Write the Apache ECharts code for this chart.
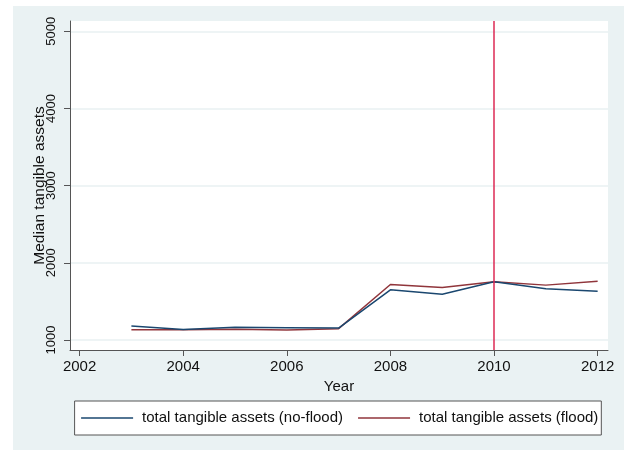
<!DOCTYPE html>
<html>
<head>
<meta charset="utf-8">
<script src="https://cdn.jsdelivr.net/npm/echarts@6/dist/echarts.min.js"></script>
<style>
html,body{margin:0;padding:0;background:#fff;}
#chart{width:624px;height:450px;}
</style>
</head>
<body>
<div id="chart"></div>
<script>
const years = [2003, 2004, 2005, 2006, 2007, 2008, 2009, 2010, 2011, 2012];
const noFlood = [1181, 1136, 1164, 1160, 1155, 1650, 1594, 1754, 1663, 1633];
const flood = [1134, 1132, 1138, 1130, 1147, 1719, 1680, 1754, 1711, 1762];
const xTicks = [2002, 2004, 2006, 2008, 2010, 2012];
const yTicks = [1000, 2000, 3000, 4000, 5000];
const floodYear = [2010];
const seriesNames = ['total tangible assets (no-flood)', 'total tangible assets (flood)'];

const font = '"Liberation Sans", Arial, Helvetica, sans-serif';
const chart = echarts.init(document.getElementById('chart'), null, {renderer: 'canvas'});
chart.setOption({
  animation: false,
  backgroundColor: 'transparent',
  graphic: [{
    type: 'rect', z: -10, silent: true,
    shape: {x: 13, y: 6, width: 611, height: 444},
    style: {fill: '#eaf2f3'}
  }],
  grid: {
    left: 70, right: 16, top: 21, bottom: 100,
    show: true, backgroundColor: '#ffffff', borderWidth: 0
  },
  xAxis: {
    type: 'value', min: 2001.815, max: 2012.2,
    name: 'Year', nameLocation: 'middle', nameGap: 28,
    nameTextStyle: {fontFamily: font, fontSize: 15, color: '#111'},
    axisLine: {show: true, onZero: false, lineStyle: {color: '#555', width: 1}},
    axisTick: {show: true, length: 6, customValues: xTicks, lineStyle: {color: '#555'}},
    axisLabel: {customValues: xTicks, margin: 9, fontFamily: font, fontSize: 15, color: '#111',
      formatter: v => String(v)},
    splitLine: {show: false}
  },
  yAxis: {
    type: 'value', min: 870.5, max: 5133,
    name: 'Median tangible assets', nameLocation: 'middle', nameGap: 22, nameMoveOverlap: false,
    nameTextStyle: {fontFamily: font, fontSize: 15.5, color: '#111'},
    axisLine: {show: true, onZero: false, lineStyle: {color: '#555', width: 1}},
    axisTick: {show: true, length: 6, customValues: yTicks, lineStyle: {color: '#555'}},
    axisLabel: {customValues: yTicks, rotate: 90, margin: 12, fontFamily: font, fontSize: 13, color: '#111',
      formatter: v => String(v)},
    splitLine: {show: true, customValues: yTicks, lineStyle: {color: '#e8f0f2', width: 1.5}}
  },
  legend: {
    left: 74.6, top: 401,
    padding: [9, 3, 9, 6.5],
    itemGap: 15, itemWidth: 52, itemHeight: 1.5, icon: 'rect',
    backgroundColor: '#ffffff', borderColor: '#555', borderWidth: 1, borderRadius: 0,
    textStyle: {fontFamily: font, fontSize: 15, color: '#111', padding: [0, 0, 0, 4], lineHeight: 16},
    data: seriesNames
  },
  series: [
    {
      name: seriesNames[0], type: 'line', symbol: 'none',
      data: years.map((y, i) => [y, noFlood[i]]),
      lineStyle: {color: '#1a476f', width: 1.5}, itemStyle: {color: '#1a476f'},
      z: 3
    },
    {
      name: seriesNames[1], type: 'line', symbol: 'none',
      data: years.map((y, i) => [y, flood[i]]),
      lineStyle: {color: '#90353b', width: 1.5}, itemStyle: {color: '#90353b'},
      z: 2,
      markLine: {
        silent: true, symbol: 'none', label: {show: false},
        lineStyle: {color: '#dc2a55', width: 1.5, type: 'solid'},
        data: floodYear.map(v => ({xAxis: v}))
      }
    }
  ]
});
</script>
</body>
</html>
